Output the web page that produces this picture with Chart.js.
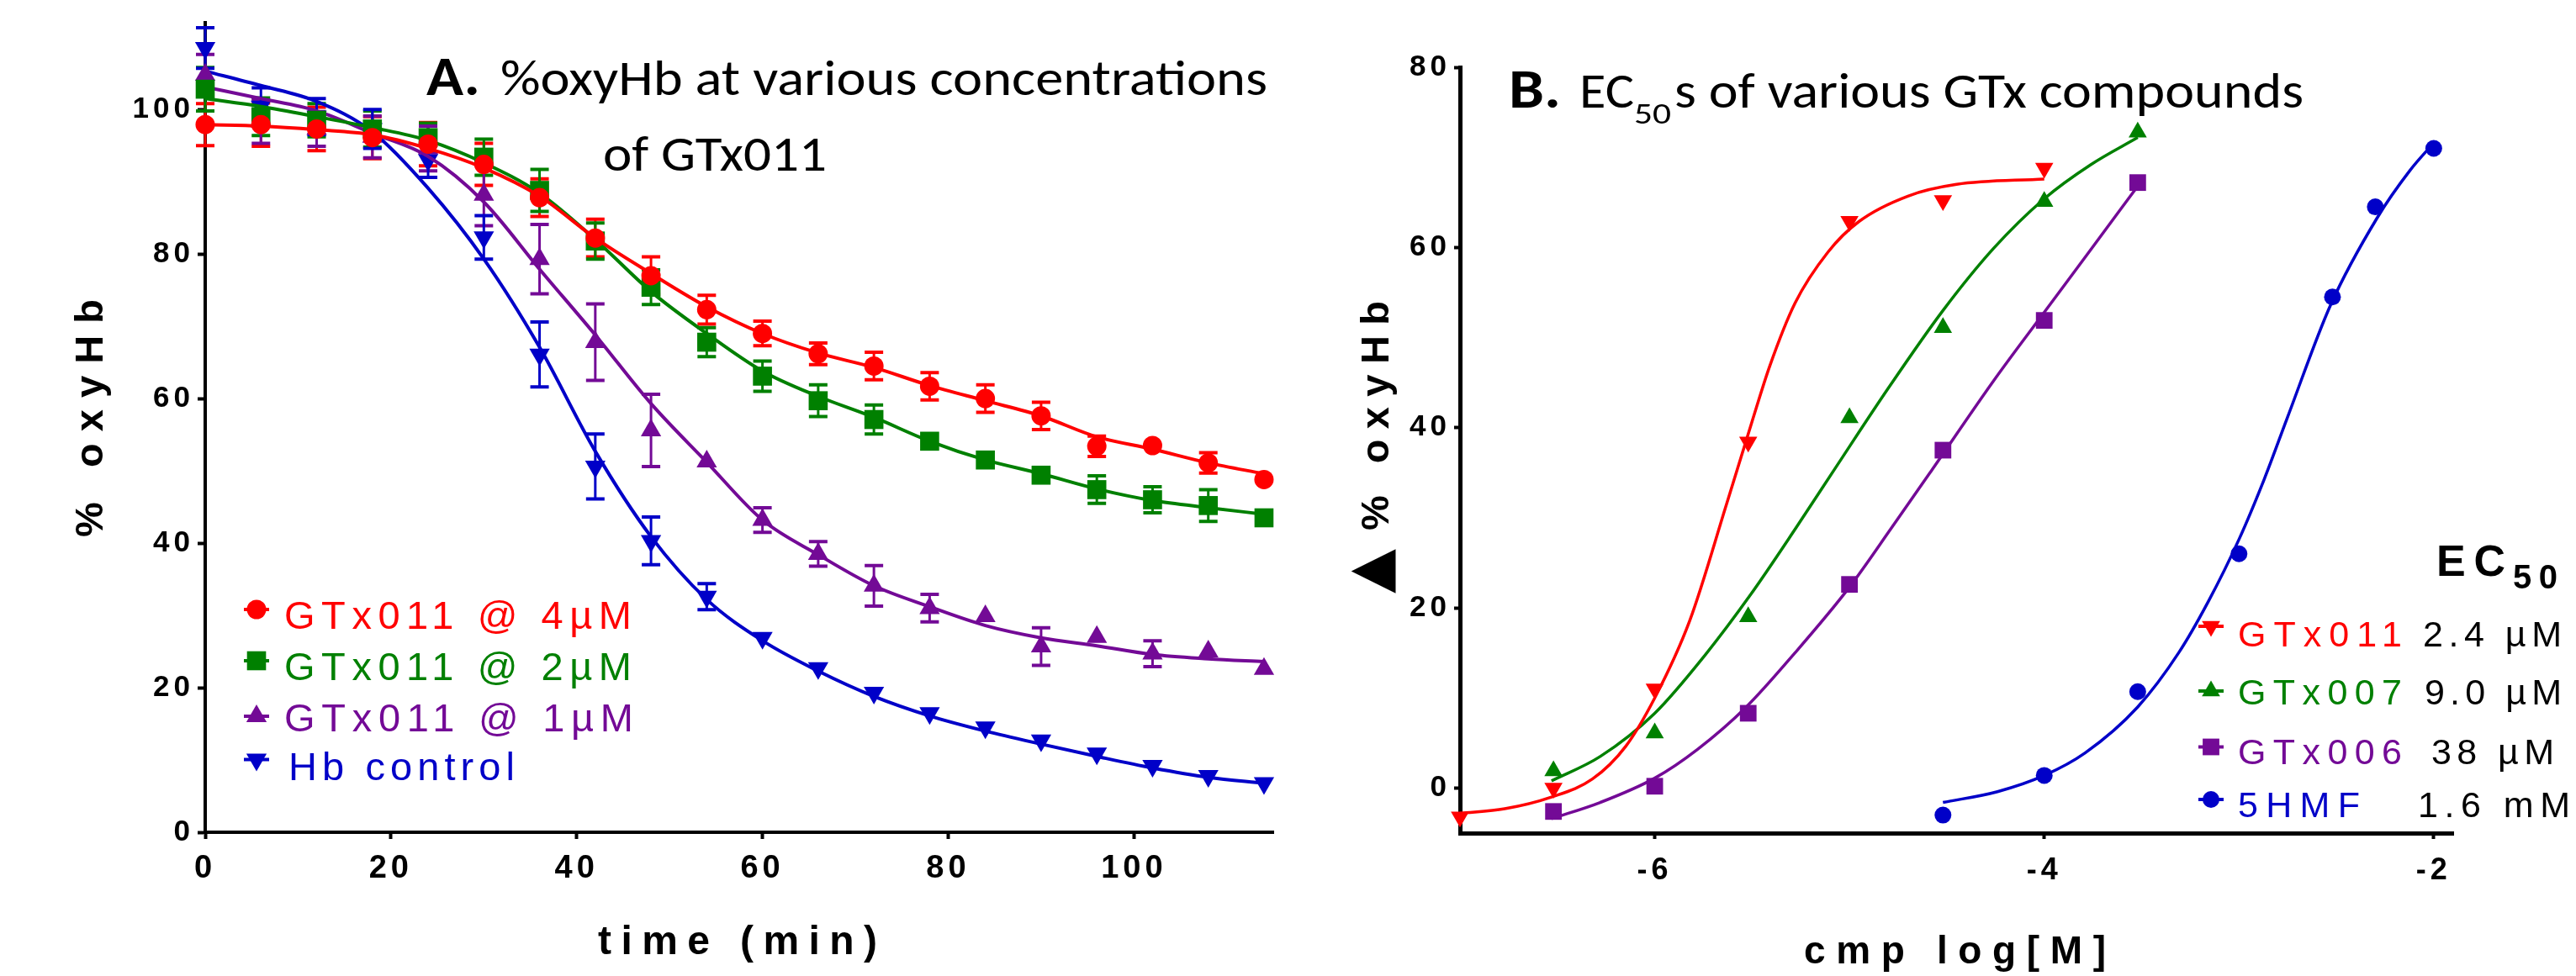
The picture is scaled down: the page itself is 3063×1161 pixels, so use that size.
<!DOCTYPE html>
<html>
<head>
<meta charset="utf-8">
<title>%oxyHb and EC50s of GTx compounds</title>
<script src="https://cdn.jsdelivr.net/npm/chart.js@4.4.1/dist/chart.umd.min.js"></script>
<style>
html, body { margin:0; padding:0; background:#ffffff; }
#page { position:relative; width:3063px; height:1161px; background:#ffffff; overflow:hidden; }
#canvasA { position:absolute; left:0; top:0; }
#canvasB { position:absolute; left:1600px; top:0; }
#labels { position:absolute; left:0; top:0; pointer-events:none; }
.sans { font-family: 'Liberation Sans', Arial, sans-serif; }
.cal { font-family: Carlito, Calibri, Lato, sans-serif; }
</style>
</head>
<body>
<div id="page">
  <canvas id="canvasA" width="1600" height="1161"></canvas>
  <canvas id="canvasB" width="1463" height="1161"></canvas>
  <svg id="labels" width="3063" height="1161" viewBox="0 0 3063 1161" xmlns="http://www.w3.org/2000/svg">
    <!-- Panel A title -->
    <text class="cal" x="507" y="113" font-size="66" font-weight="bold" fill="#000" textLength="64" lengthAdjust="spacingAndGlyphs">A.</text>
    <text class="cal" x="595" y="113" font-size="60" fill="#000" textLength="912" lengthAdjust="spacingAndGlyphs">%oxyHb at various concentrations</text>
    <text class="cal" x="717" y="203" font-size="60" fill="#000" textLength="266" lengthAdjust="spacingAndGlyphs">of GTx011</text>
    <!-- Panel B title -->
    <text class="cal" x="1794" y="128" font-size="66" font-weight="bold" fill="#000" textLength="62" lengthAdjust="spacingAndGlyphs">B.</text>
    <text class="cal" x="1878" y="128" font-size="60" fill="#000" textLength="65" lengthAdjust="spacingAndGlyphs">EC</text>
    <text class="cal" x="1943" y="147" font-size="34" fill="#000" textLength="44" lengthAdjust="spacingAndGlyphs">50</text>
    <text class="cal" x="1991" y="128" font-size="60" fill="#000" textLength="748" lengthAdjust="spacingAndGlyphs">s of various GTx compounds</text>
    <!-- Axis titles -->
    <text class="sans" font-weight="bold" font-size="47" fill="#000" transform="translate(122,639) rotate(-90)" textLength="283" lengthAdjust="spacing">% oxyHb</text>
    <text font-family="DejaVu Sans" font-size="69" fill="#000" transform="translate(1651,706) rotate(-90)">▲</text>
    <text class="sans" font-weight="bold" font-size="47" fill="#000" transform="translate(1651,631) rotate(-90)" textLength="273" lengthAdjust="spacing">% oxyHb</text>
    <text class="sans" font-weight="bold" font-size="48" fill="#000" x="711" y="1135" textLength="332" lengthAdjust="spacing">time (min)</text>
    <text class="sans" font-weight="bold" font-size="46" fill="#000" x="2145" y="1146" textLength="359" lengthAdjust="spacing">cmp log[M]</text>
    <!-- Panel A legend -->
    <text class="sans" font-size="47" fill="#FF0000" x="338" y="748" textLength="413" lengthAdjust="spacing">GTx011 @ 4µM</text>
    <text class="sans" font-size="47" fill="#008000" x="338" y="809" textLength="413" lengthAdjust="spacing">GTx011 @ 2µM</text>
    <text class="sans" font-size="47" fill="#730A96" x="338" y="870" textLength="415" lengthAdjust="spacing">GTx011 @ 1µM</text>
    <text class="sans" font-size="47" fill="#0000C8" x="343" y="928" textLength="269" lengthAdjust="spacing">Hb control</text>
    <!-- Panel B legend -->
    <text class="sans" font-weight="bold" font-size="52" fill="#000" x="2897" y="685" textLength="82" lengthAdjust="spacing">EC</text>
    <text class="sans" font-weight="bold" font-size="40" fill="#000" x="2988" y="700" textLength="53" lengthAdjust="spacing">50</text>
    <text class="sans" font-size="43" fill="#FF0000" x="2661" y="769" textLength="195" lengthAdjust="spacing">GTx011</text>
    <text class="sans" font-size="43" fill="#000" x="2881" y="769" textLength="165" lengthAdjust="spacing">2.4 µM</text>
    <text class="sans" font-size="43" fill="#008000" x="2661" y="838" textLength="195" lengthAdjust="spacing">GTx007</text>
    <text class="sans" font-size="43" fill="#000" x="2883" y="838" textLength="163" lengthAdjust="spacing">9.0 µM</text>
    <text class="sans" font-size="43" fill="#730A96" x="2661" y="909" textLength="195" lengthAdjust="spacing">GTx006</text>
    <text class="sans" font-size="43" fill="#000" x="2891" y="909" textLength="146" lengthAdjust="spacing">38 µM</text>
    <text class="sans" font-size="43" fill="#0000C8" x="2661" y="972" textLength="145" lengthAdjust="spacing">5HMF</text>
    <text class="sans" font-size="43" fill="#000" x="2875" y="972" textLength="181" lengthAdjust="spacing">1.6 mM</text>
  </svg>
</div>
<script>
// ================= Panel A: %oxyHb vs time =================
const timeMin = [0, 6, 12, 18, 24, 30, 36, 42, 48, 54, 60, 66, 72, 78, 84, 90, 96, 102, 108, 114];

const gtx4Mean = [97.9, 97.9, 97.3, 96.1, 95.2, 92.4, 87.8, 82.2, 77.0, 72.3, 69.0, 66.2, 64.5, 61.7, 60.0, 57.6, 53.4, 53.5, 51.1, 48.8];
const gtx4Err  = [2.9, 3.0, 3.0, 2.9, 3.0, 2.9, 2.6, 2.6, 2.6, 2.0, 1.7, 1.5, 1.9, 1.9, 1.9, 1.9, 1.4, 0, 1.4, 0];
const gtx4Fit  = [97.9, 97.7, 97.2, 96.5, 94.6, 91.9, 88.0, 82.2, 77.3, 72.7, 69.0, 66.3, 64.3, 61.8, 59.7, 57.6, 54.7, 53.0, 51.1, 49.6];

const gtx2Mean = [102.8, 99.0, 98.5, 97.3, 96.1, 93.4, 88.8, 81.8, 75.4, 67.8, 63.1, 59.7, 57.1, 54.1, 51.5, 49.4, 47.4, 46.0, 45.2, 43.5];
const gtx2Err  = [3.0, 2.6, 2.3, 2.5, 2.0, 2.5, 2.9, 2.5, 2.4, 2.0, 2.1, 2.2, 2.0, 0, 0, 0, 1.9, 1.8, 2.2, 0];
const gtx2Fit  = [101.5, 100.4, 99.0, 97.5, 95.7, 92.6, 88.4, 82.0, 74.8, 69.0, 63.8, 60.3, 57.4, 54.1, 51.5, 49.6, 47.5, 45.9, 44.9, 44.0];

const gtx1Mean = [104.8, 98.3, 97.3, 96.2, 94.6, 88.2, 79.3, 67.8, 55.6, 51.3, 43.2, 38.5, 34.1, 31.0, 29.9, 25.7, 27.0, 24.7, 25.0, 22.6];
const gtx1Err  = [2.8, 3.0, 2.4, 2.9, 3.1, 4.3, 4.8, 5.3, 5.0, 0, 1.7, 1.7, 2.8, 1.9, 0, 2.6, 0, 1.8, 0, 0];
const gtx1Fit  = [103.1, 101.5, 99.8, 96.7, 93.5, 87.2, 77.9, 68.8, 59.3, 51.2, 43.2, 38.4, 34.1, 31.2, 28.6, 26.9, 25.8, 24.6, 24.0, 23.6];

const hbMean = [108.5, 100.4, 99.0, 97.3, 93.0, 82.3, 66.1, 50.6, 40.3, 32.6, 26.9, 22.7, 19.3, 16.5, 14.5, 12.7, 10.9, 9.2, 7.8, 6.8];
const hbErr  = [2.8, 2.6, 2.5, 2.7, 2.4, 3.0, 4.5, 4.5, 3.3, 1.8, 0, 0, 0, 0, 0, 0, 0, 0, 0, 0];
const hbFit  = [105.3, 103.3, 101.1, 96.9, 89.1, 79.3, 67.1, 52.7, 40.9, 32.2, 26.5, 22.3, 18.8, 16.1, 14.0, 12.2, 10.5, 8.9, 7.6, 6.8];

const ticksAX = [0, 20, 40, 60, 80, 100];
const ticksAY = [0, 20, 40, 60, 80, 100];

// ================= Panel B: dose response =================
const logGTx011 = [-7, -6.52, -6, -5.52, -5, -4.52, -4];
const pctGTx011 = [-3.2, 0.0, 11.0, 38.4, 62.9, 65.2, 68.8];
const logGTx007 = [-6.52, -6, -5.52, -5, -4.52, -4, -3.52];
const pctGTx007 = [1.9, 6.1, 19.0, 41.1, 51.1, 65.1, 72.8];
const logGTx006 = [-6.52, -6, -5.52, -5, -4.52, -4, -3.52];
const pctGTx006 = [-2.6, 0.2, 8.3, 22.6, 37.5, 51.9, 67.2];
const log5HMF   = [-4.52, -4, -3.52, -3, -2.52, -2.3, -2];
const pct5HMF   = [-3.0, 1.4, 10.7, 26.0, 54.5, 64.5, 71.0];

// fitted curves
const fitGTx011X = [-7.0, -6.77, -6.53, -6.32, -6.15, -6.0, -5.82, -5.63, -5.5, -5.41, -5.28, -5.11, -4.95, -4.7, -4.45, -4.0];
const fitGTx011Y = [-2.8, -2.3, -1.0, 1.0, 4.6, 10.0, 18.6, 31.6, 40.7, 46.8, 53.8, 59.5, 62.9, 65.7, 67.0, 67.6];
const fitGTx007X = [-6.53, -6.28, -6.0, -5.74, -5.51, -5.28, -5.07, -4.8, -4.52, -4.26, -4.0, -3.76, -3.52];
const fitGTx007Y = [0.8, 3.5, 8.3, 14.8, 21.4, 28.7, 35.6, 44.4, 53.0, 59.9, 65.4, 69.2, 72.2];
const fitGTx006X = [-6.53, -6.28, -6.0, -5.78, -5.53, -5.28, -5.0, -4.78, -4.58, -4.26, -4.0, -3.77, -3.52];
const fitGTx006Y = [-3.4, -1.6, 1.1, 4.3, 9.0, 15.0, 22.3, 29.0, 35.2, 45.2, 52.8, 59.5, 66.8];
const fit5HMFX   = [-4.52, -4.24, -4.0, -3.79, -3.52, -3.31, -3.16, -3.0, -2.87, -2.75, -2.53, -2.29, -2.12, -2.0];
const fit5HMFY   = [-1.6, -0.4, 1.4, 3.9, 9.0, 15.0, 20.6, 27.6, 34.3, 41.2, 53.6, 63.3, 68.6, 71.6];

const ticksBX = [-6, -4, -2];
const ticksBY = [0, 20, 40, 60, 80];

// ================= styling =================
const RED = '#FF0000', GREEN = '#008000', PURPLE = '#730A96', BLUE = '#0000C8';
const FONT = "'Liberation Sans', Arial, sans-serif";

const pts = (xs, ys) => xs.map((x, i) => ({ x: x, y: ys[i] }));

function markerSet(label, xs, ys, color, style, radius, rotation, errs) {
  return {
    label: label, data: pts(xs, ys), showLine: false,
    pointStyle: style, pointRadius: radius, pointHoverRadius: radius,
    pointRotation: rotation, pointBackgroundColor: color, pointBorderColor: color,
    pointBorderWidth: 0, backgroundColor: color, borderColor: color,
    clip: false, errors: errs || null
  };
}
function fitSet(label, xs, ys, color, width) {
  return {
    label: label, data: pts(xs, ys), showLine: true, pointRadius: 0, pointHoverRadius: 0,
    borderColor: color, backgroundColor: color, borderWidth: width,
    cubicInterpolationMode: 'monotone', fill: false, clip: false
  };
}

// error bars drawn through the chart's own scales
const errorBars = {
  id: 'errorBars',
  beforeDatasetsDraw(chart) {
    const ctx = chart.ctx, xs = chart.scales.x, ys = chart.scales.y;
    chart.data.datasets.forEach((ds) => {
      if (!ds.errors) return;
      ctx.save();
      ctx.strokeStyle = ds.borderColor;
      ds.data.forEach((p, j) => {
        const e = ds.errors[j];
        if (!e) return;
        const px = xs.getPixelForValue(p.x);
        const top = ys.getPixelForValue(p.y + e);
        const bot = ys.getPixelForValue(p.y - e);
        ctx.lineWidth = 3;
        ctx.beginPath(); ctx.moveTo(px, top); ctx.lineTo(px, bot); ctx.stroke();
        ctx.lineWidth = 4;
        ctx.beginPath();
        ctx.moveTo(px - 11, top); ctx.lineTo(px + 11, top);
        ctx.moveTo(px - 11, bot); ctx.lineTo(px + 11, bot);
        ctx.stroke();
      });
      ctx.restore();
    });
  }
};

function drawMark(ctx, m) {
  ctx.save();
  ctx.strokeStyle = m.color; ctx.lineWidth = 4;
  ctx.beginPath(); ctx.moveTo(m.x - 15, m.y); ctx.lineTo(m.x + 15, m.y); ctx.stroke();
  ctx.fillStyle = m.color;
  ctx.beginPath();
  if (m.style === 'circle') {
    ctx.arc(m.x, m.y, m.r, 0, Math.PI * 2);
  } else if (m.style === 'rect') {
    const h = m.r * Math.SQRT1_2;
    ctx.rect(m.x - h, m.y - h, 2 * h, 2 * h);
  } else {
    const rot = (m.rot || 0) * Math.PI / 180;
    for (let k = 0; k < 3; k++) {
      const a = rot + k * 2 * Math.PI / 3;
      const vx = m.x + Math.sin(a) * m.r, vy = m.y - Math.cos(a) * m.r;
      if (k === 0) ctx.moveTo(vx, vy); else ctx.lineTo(vx, vy);
    }
    ctx.closePath();
  }
  ctx.fill();
  ctx.restore();
}
function legendMarks(list, offsetX) {
  return {
    id: 'legendMarks',
    afterDraw(chart) {
      list.forEach(m => drawMark(chart.ctx, Object.assign({}, m, { x: m.x - offsetX })));
    }
  };
}
function spacing(px) {
  return {
    id: 'tickSpacing',
    beforeDraw(chart) { chart.ctx.letterSpacing = px + 'px'; },
    afterDraw(chart) { chart.ctx.letterSpacing = '0px'; }
  };
}
function axis(min, max, tickList, fitFn, fontSize, pad, tickLen, borderW) {
  return {
    type: 'linear', min: min, max: max,
    afterBuildTicks: s => { s.ticks = tickList.map(v => ({ value: v })); },
    afterFit: fitFn,
    border: { display: true, color: '#000', width: borderW },
    grid: { display: true, drawOnChartArea: false, drawTicks: true, tickLength: tickLen, tickWidth: 4, tickColor: '#000' },
    ticks: { color: '#000', font: { family: FONT, size: fontSize, weight: 'bold' }, padding: pad, maxRotation: 0, autoSkip: false }
  };
}

// ---------- Chart A ----------
new Chart(document.getElementById('canvasA'), {
  type: 'scatter',
  data: {
    datasets: [
      markerSet('GTx011 @ 4µM', timeMin, gtx4Mean, RED, 'circle', 11.5, 0, gtx4Err),
      fitSet('GTx011 @ 4µM fit', timeMin, gtx4Fit, RED, 4),
      markerSet('GTx011 @ 2µM', timeMin, gtx2Mean, GREEN, 'rect', 16, 0, gtx2Err),
      fitSet('GTx011 @ 2µM fit', timeMin, gtx2Fit, GREEN, 4),
      markerSet('GTx011 @ 1µM', timeMin, gtx1Mean, PURPLE, 'triangle', 14, 0, gtx1Err),
      fitSet('GTx011 @ 1µM fit', timeMin, gtx1Fit, PURPLE, 4),
      markerSet('Hb control', timeMin, hbMean, BLUE, 'triangle', 14, 180, hbErr),
      fitSet('Hb control fit', timeMin, hbFit, BLUE, 4)
    ]
  },
  options: {
    responsive: false, animation: false, devicePixelRatio: 1,
    layout: { padding: { left: 0, top: 27, right: 86, bottom: 0 } },
    plugins: { legend: { display: false }, tooltip: { enabled: false }, title: { display: false } },
    scales: {
      x: axis(0, 115, ticksAX, s => { s.height = 171; }, 38, 13, 8, 4),
      y: axis(0, 112, ticksAY, s => { s.width = 244; }, 35, 4, 9, 4)
    }
  },
  plugins: [errorBars, spacing(5), legendMarks([
    { x: 305, y: 725, style: 'circle', r: 11.5, color: RED },
    { x: 305, y: 786, style: 'rect', r: 16, color: GREEN },
    { x: 305, y: 852, style: 'triangle', r: 14, rot: 0, color: PURPLE },
    { x: 305, y: 903.5, style: 'triangle', r: 14, rot: 180, color: BLUE }
  ], 0)]
});

// ---------- Chart B ----------
new Chart(document.getElementById('canvasB'), {
  type: 'scatter',
  data: {
    datasets: [
      markerSet('GTx011', logGTx011, pctGTx011, RED, 'triangle', 12.5, 180),
      fitSet('GTx011 fit', fitGTx011X, fitGTx011Y, RED, 3.5),
      markerSet('GTx007', logGTx007, pctGTx007, GREEN, 'triangle', 12.5, 0),
      fitSet('GTx007 fit', fitGTx007X, fitGTx007Y, GREEN, 3.5),
      markerSet('GTx006', logGTx006, pctGTx006, PURPLE, 'rect', 14, 0),
      fitSet('GTx006 fit', fitGTx006X, fitGTx006Y, PURPLE, 3.5),
      markerSet('5HMF', log5HMF, pct5HMF, BLUE, 'circle', 10, 0),
      fitSet('5HMF fit', fit5HMFX, fit5HMFY, BLUE, 3.5)
    ]
  },
  options: {
    responsive: false, animation: false, devicePixelRatio: 1,
    layout: { padding: { left: 0, top: 80, right: 146, bottom: 0 } },
    plugins: { legend: { display: false }, tooltip: { enabled: false }, title: { display: false } },
    scales: {
      x: axis(-7, -1.9, ticksBX, s => { s.height = 170; }, 36, 16, 7, 5),
      y: axis(-5, 80, ticksBY, s => { s.width = 136; }, 35, 4, 7, 5)
    }
  },
  plugins: [spacing(5), legendMarks([
    { x: 2629, y: 745, style: 'triangle', r: 12.5, rot: 180, color: RED },
    { x: 2629, y: 822, style: 'triangle', r: 12.5, rot: 0, color: GREEN },
    { x: 2629, y: 888.5, style: 'rect', r: 14, color: PURPLE },
    { x: 2629, y: 951, style: 'circle', r: 10, color: BLUE }
  ], 1600)]
});
</script>
</body>
</html>
